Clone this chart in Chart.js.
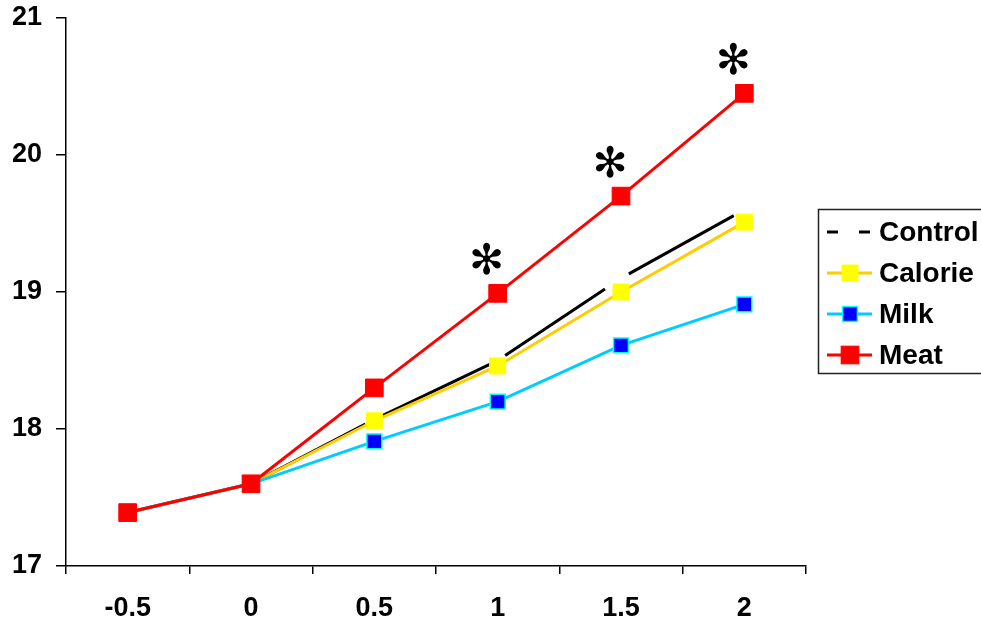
<!DOCTYPE html>
<html>
<head>
<meta charset="utf-8">
<script src="https://cdn.jsdelivr.net/npm/chart.js@4.4.1/dist/chart.umd.min.js"></script>
<style>
    html, body { margin: 0; padding: 0; background: #fff; }
</style>
</head>
<body>
<canvas id="line-chart" width="981" height="623"></canvas>
<script>
        // values
        var timeLabels = ['-0.5', '0', '0.5', '1', '1.5', '2'];
        var controlValues = [17.39, 17.6, 18.07, 18.5, 19.1, 19.6];
        var calorieValues = [17.39, 17.6, 18.06, 18.46, 19.0, 19.51];
        var milkValues = [17.39, 17.6, 17.91, 18.2, 18.61, 18.91];
        var meatValues = [17.39, 17.6, 18.3, 18.99, 19.7, 20.45];
        var starPoints = [3, 4, 5];   // meat points marked with an asterisk
        var yMin = 17, yMax = 21;

        var ctx = document.getElementById('line-chart').getContext('2d');
        var fontFamily = '"Liberation Sans", Arial, sans-serif';
        var tickFont = { family: fontFamily, size: 27, weight: 'bold' };

        // control line: each segment gets its own dash start, like the old spreadsheet
        var controlSegment = {
            borderDashOffset: function (c) { return -9 - c.p0DataIndex * 160; }
        };

        var extras = {
            id: 'extras',
            afterDatasetsDraw: function (chart) {
                var c = chart.ctx;
                var meat = chart.getDatasetMeta(3);
                c.save();
                c.fillStyle = '#000';
                c.textAlign = 'center';
                c.textBaseline = 'middle';
                c.font = '42px "DejaVu Sans"';
                starPoints.forEach(function (i) {
                    var p = meat.data[i];
                    c.fillText('\u273B', p.x - 11, p.y - 30);
                });

                // legend box
                c.lineWidth = 1.5;
                c.strokeStyle = '#222';
                c.strokeRect(818.5, 209.5, 180, 164);
                c.textAlign = 'left';
                c.font = 'bold 28px ' + fontFamily;
                chart.data.datasets.forEach(function (ds, i) {
                    var y = 232 + i * 41;
                    c.setLineDash(i === 0 ? [11, 21] : []);
                    c.strokeStyle = ds.borderColor;
                    c.lineWidth = 3;
                    c.beginPath();
                    c.moveTo(827, y);
                    c.lineTo(872, y);
                    c.stroke();
                    c.setLineDash([]);
                    if (ds.pointRadius) {
                        var s = ds.pointRadius * Math.SQRT1_2;
                        c.fillStyle = ds.pointBackgroundColor;
                        c.strokeStyle = ds.pointBorderColor;
                        c.lineWidth = ds.pointBorderWidth;
                        c.fillRect(850 - s, y - s, 2 * s, 2 * s);
                        c.strokeRect(850 - s, y - s, 2 * s, 2 * s);
                    }
                    c.fillStyle = '#000';
                    c.fillText(ds.label, 879, y + 1);
                });
                c.restore();
            }
        };

        var config = {
            type: 'line',
            data: {
                labels: timeLabels,
                datasets: [{
                    label: 'Control',
                    data: controlValues,
                    borderColor: '#000000',
                    borderWidth: 3,
                    borderDash: [120, 40],
                    borderDashOffset: -9,
                    segment: controlSegment,
                    pointRadius: 0,
                    order: 4
                }, {
                    label: 'Calorie',
                    data: calorieValues,
                    borderColor: '#FFCC00',
                    borderWidth: 3,
                    pointStyle: 'rect',
                    pointRadius: 11.3,
                    pointBackgroundColor: '#FFFF00',
                    pointBorderColor: '#FFFF00',
                    pointBorderWidth: 1,
                    order: 3
                }, {
                    label: 'Milk',
                    data: milkValues,
                    borderColor: '#00CCFF',
                    borderWidth: 3,
                    pointStyle: 'rect',
                    pointRadius: 10.5,
                    pointBackgroundColor: '#0000FF',
                    pointBorderColor: '#00FFFF',
                    pointBorderWidth: 1.5,
                    order: 2
                }, {
                    label: 'Meat',
                    data: meatValues,
                    borderColor: '#FF0000',
                    borderWidth: 3,
                    pointStyle: 'rect',
                    pointRadius: 12.5,
                    pointBackgroundColor: '#FF0000',
                    pointBorderColor: '#FF0000',
                    pointBorderWidth: 1,
                    order: 1
                }]
            },
            options: {
                responsive: false,
                animation: false,
                devicePixelRatio: 1,
                layout: { padding: { top: 18, right: 175, bottom: 0, left: 0 } },
                plugins: {
                    legend: { display: false },
                    tooltip: { enabled: false }
                },
                elements: { line: { tension: 0 } },
                scales: {
                    x: {
                        type: 'category',
                        offset: true,
                        grid: {
                            offset: true,
                            drawOnChartArea: false,
                            drawTicks: true,
                            tickLength: 8,
                            color: '#000',
                            lineWidth: 1.5
                        },
                        border: { display: true, color: '#000', width: 1.5 },
                        ticks: { font: tickFont, color: '#000', padding: 18, maxRotation: 0 },
                        afterFit: function (s) {
                            s.height = 57;
                            s.paddingLeft = 0;
                            s.paddingRight = 0;
                        }
                    },
                    y: {
                        min: yMin,
                        max: yMax,
                        grid: {
                            drawOnChartArea: false,
                            drawTicks: true,
                            tickLength: 10,
                            color: '#000',
                            lineWidth: 1.5
                        },
                        border: { display: true, color: '#000', width: 1.5 },
                        ticks: { stepSize: 1, font: tickFont, color: '#000', padding: 14 },
                        afterFit: function (s) {
                            s.width = 66;
                            s.paddingTop = 0;
                            s.paddingBottom = 0;
                        }
                    }
                }
            },
            plugins: [extras]
        };
        new Chart(ctx, config);
</script>
</body>
</html>
